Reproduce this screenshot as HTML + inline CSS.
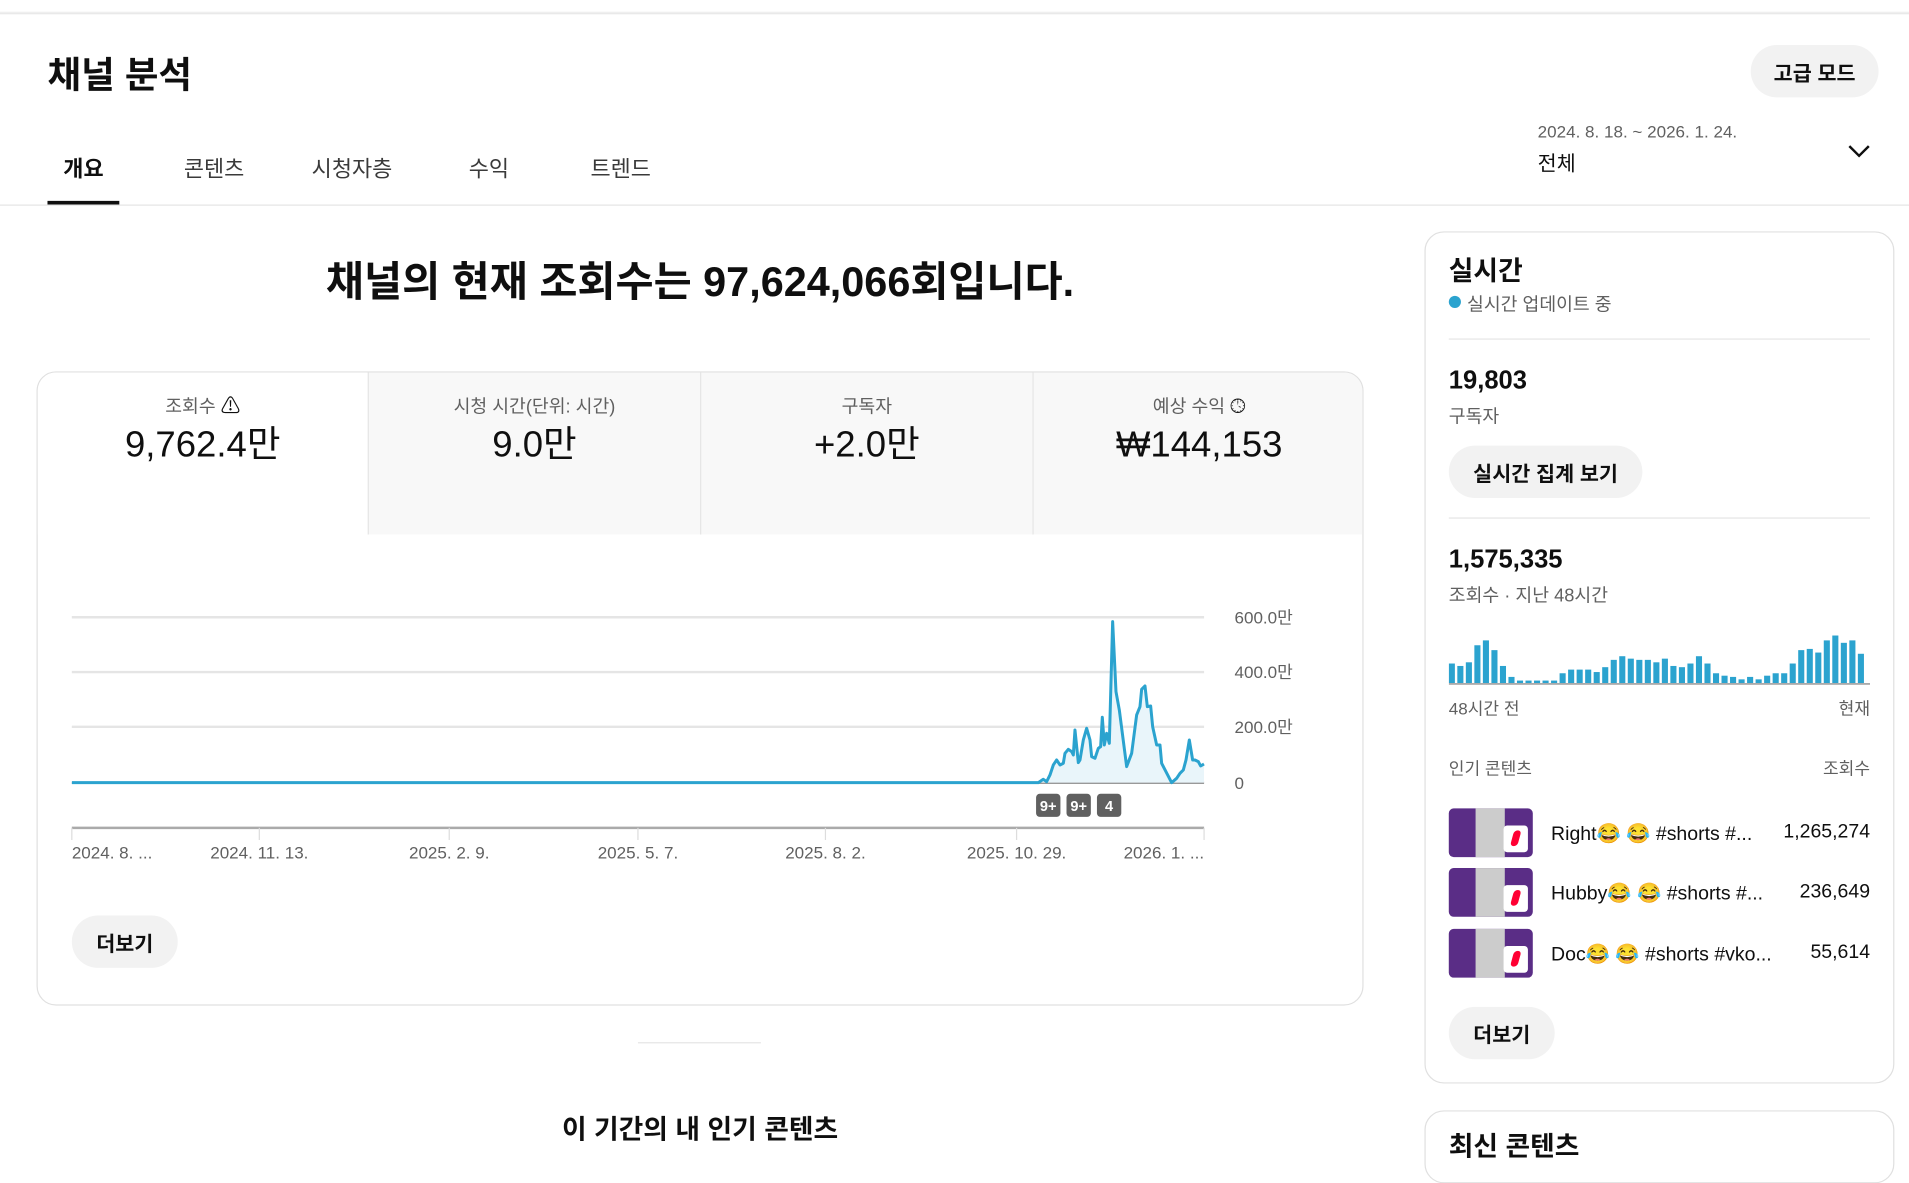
<!DOCTYPE html>
<html><head><meta charset="utf-8">
<style>
*{margin:0;padding:0;box-sizing:border-box}
html,body{width:1909px;height:1142px;overflow:hidden;background:#fff}
#w{position:absolute;left:0;top:0;width:1568px;height:938px;transform:scale(1.21747);transform-origin:0 0;font-family:"Liberation Sans","Noto Sans CJK KR",sans-serif;color:#0f0f0f}
.a{position:absolute;white-space:nowrap}
.g{color:#606060}
.btn{position:absolute;background:#f2f2f2;border-radius:22px;font-size:17px;font-weight:600;display:flex;align-items:center;justify-content:center}
.cell{position:absolute;top:0;height:133px;text-align:center}
.cell .l{margin-top:20px;font-size:15px;line-height:18px;height:18px;color:#606060}
.cell .l span{display:inline-block;font-size:16px;line-height:18px;height:18px;color:#0f0f0f;vertical-align:top}
.cell .v{margin-top:4px;font-size:30px;line-height:36px}
.thumb{position:absolute;left:1190px;width:69px;height:40px;background:#5a2d86;border-radius:4px}
.thumb i{position:absolute;left:22px;top:0;width:24px;height:40px;background:#ccc}
.thumb b{position:absolute;right:4px;top:14px;width:20px;height:22px;background:#fff;border-radius:3px}
.thumb b:after{content:"";position:absolute;left:7px;top:4px;width:6px;height:13px;background:#f03;border-radius:3px;transform:skewX(-15deg)}
</style></head><body><div id="w">
<div class="a" style="left:0;top:0;width:1568px;height:12px;background:linear-gradient(#fff,#fff 9px,#e6e6e6 11px,#f7f7f7 12px)"></div>
<div class="a" style="left:39px;top:37px;font-size:30px;font-weight:700">채널 분석</div>
<div class="btn" style="left:1438px;top:37px;width:105px;height:43px">고급 모드</div>
<div class="a" style="left:52px;top:125px;font-size:18px;font-weight:600">개요</div>
<div class="a g" style="left:151px;top:125px;font-size:18px;color:#3a3a3a">콘텐츠</div>
<div class="a g" style="left:256px;top:125px;font-size:18px;color:#3a3a3a">시청자층</div>
<div class="a g" style="left:385px;top:125px;font-size:18px;color:#3a3a3a">수익</div>
<div class="a g" style="left:485px;top:125px;font-size:18px;color:#3a3a3a">트렌드</div>
<div class="a" style="left:39px;top:165px;width:59px;height:3px;background:#0f0f0f"></div>
<div class="a" style="left:0;top:168px;width:1568px;height:1px;background:#e5e5e5"></div>
<div class="a g" style="left:1263px;top:100px;font-size:14px">2024. 8. 18. ~ 2026. 1. 24.</div>
<div class="a" style="left:1263px;top:120px;font-size:17px">전체</div>
<svg class="a" style="left:1517px;top:117px" width="20" height="14"><path d="M2 3l8 8 8-8" fill="none" stroke="#0f0f0f" stroke-width="2"/></svg>

<div class="a" style="left:0;width:1150px;top:204px;text-align:center;font-size:34px;font-weight:700">채널의 현재 조회수는 97,624,066회입니다.</div>

<div class="a" style="left:30px;top:305px;width:1090px;height:521px;border:1px solid #e0e0e0;border-radius:16px;overflow:hidden">
 <div class="cell" style="left:0;width:271px;background:#fff"><div class="l">조회수 <span>⚠</span></div><div class="v">9,762.4만</div></div>
 <div class="cell" style="left:271px;width:273px;background:#f8f8f8;border-left:1px solid #e5e5e5"><div class="l">시청 시간(단위: 시간)</div><div class="v">9.0만</div></div>
 <div class="cell" style="left:544px;width:273px;background:#f8f8f8;border-left:1px solid #e5e5e5"><div class="l">구독자</div><div class="v">+2.0만</div></div>
 <div class="cell" style="left:817px;width:273px;background:#f8f8f8;border-left:1px solid #e5e5e5"><div class="l">예상 수익 <span>🕓︎</span></div><div class="v">₩144,153</div></div>
</div>

<svg class="a" style="left:0;top:0" width="1150" height="720">
 <g stroke="#e5e5e5" stroke-width="2"><line x1="59" y1="507" x2="989" y2="507"/><line x1="59" y1="552" x2="989" y2="552"/><line x1="59" y1="597" x2="989" y2="597"/></g>
 <line x1="59" y1="643" x2="989" y2="643" stroke="#999" stroke-width="2"/>
 <g transform="translate(846,492.8) scale(0.2738)">
  <path d="M-2874 548 L0,548 L25,548 L40,538 L50,545 L60,525 L70,495 L80,480 L90,495 L100,490 L105,460 L115,448 L125,455 L130,465 L135,390 L145,488 L150,480 L160,420 L170,385 L180,420 L185,470 L195,475 L205,445 L212,440 L217,352 L223,435 L230,400 L238,430 L248,65 L258,275 L268,330 L290,500 L305,460 L320,345 L330,320 L335,268 L345,258 L352,320 L362,318 L368,380 L380,435 L390,435 L395,490 L425,548 L440,535 L450,520 L460,510 L468,480 L478,420 L488,480 L495,480 L505,485 L512,498 L522,492 L522,548 Z" fill="#e9f5fa"/>
  <path d="M-2874 548 L0,548 L25,548 L40,538 L50,545 L60,525 L70,495 L80,480 L90,495 L100,490 L105,460 L115,448 L125,455 L130,465 L135,390 L145,488 L150,480 L160,420 L170,385 L180,420 L185,470 L195,475 L205,445 L212,440 L217,352 L223,435 L230,400 L238,430 L248,65 L258,275 L268,330 L290,500 L305,460 L320,345 L330,320 L335,268 L345,258 L352,320 L362,318 L368,380 L380,435 L390,435 L395,490 L425,548 L440,535 L450,520 L460,510 L468,480 L478,420 L488,480 L495,480 L505,485 L512,498 L522,492" fill="none" stroke="#2ba3cf" stroke-width="9" stroke-linejoin="round"/>
 </g>
 <g font-size="14" fill="#606060" font-family="Liberation Sans,Noto Sans CJK KR,sans-serif">
  <text x="1014" y="512">600.0만</text><text x="1014" y="557">400.0만</text><text x="1014" y="602">200.0만</text><text x="1014" y="648">0</text>
 </g>
 <g font-size="12" font-weight="700" fill="#fff" text-anchor="middle" font-family="Liberation Sans,sans-serif">
  <rect x="851" y="652" width="20" height="19" rx="3" fill="#606060"/><text x="861" y="666">9+</text>
  <rect x="876" y="652" width="20" height="19" rx="3" fill="#606060"/><text x="886" y="666">9+</text>
  <rect x="901" y="652" width="20" height="19" rx="3" fill="#606060"/><text x="911" y="666">4</text>
 </g>
 <line x1="59" y1="680" x2="989" y2="680" stroke="#aaa" stroke-width="2"/>
 <g stroke="#ddd"><line x1="59" y1="680" x2="59" y2="690"/><line x1="213" y1="680" x2="213" y2="690"/><line x1="369" y1="680" x2="369" y2="690"/><line x1="524" y1="680" x2="524" y2="690"/><line x1="678" y1="680" x2="678" y2="690"/><line x1="835" y1="680" x2="835" y2="690"/><line x1="989" y1="680" x2="989" y2="690"/></g>
 <g font-size="14" fill="#606060" font-family="Liberation Sans,Noto Sans CJK KR,sans-serif">
  <text x="59" y="705">2024. 8. ...</text><text x="213" y="705" text-anchor="middle">2024. 11. 13.</text><text x="369" y="705" text-anchor="middle">2025. 2. 9.</text><text x="524" y="705" text-anchor="middle">2025. 5. 7.</text><text x="678" y="705" text-anchor="middle">2025. 8. 2.</text><text x="835" y="705" text-anchor="middle">2025. 10. 29.</text><text x="989" y="705" text-anchor="end">2026. 1. ...</text>
 </g>
</svg>
<div class="btn" style="left:59px;top:752px;width:87px;height:43px">더보기</div>
<div class="a" style="left:524px;top:856px;width:101px;height:1px;background:#e5e5e5"></div>
<div class="a" style="left:0;width:1150px;top:910px;text-align:center;font-size:22px;font-weight:600">이 기간의 내 인기 콘텐츠</div>

<div class="a" style="left:1170px;top:190px;width:386px;height:700px;border:1px solid #e0e0e0;border-radius:16px"></div>
<div class="a" style="left:1190px;top:205px;font-size:22px;font-weight:600">실시간</div>
<div class="a" style="left:1190px;top:243px;width:10px;height:10px;border-radius:50%;background:#2ba3cf"></div>
<div class="a g" style="left:1205px;top:239px;font-size:15px">실시간 업데이트 중</div>
<div class="a" style="left:1190px;top:278px;width:346px;height:1px;background:#e5e5e5"></div>
<div class="a" style="left:1190px;top:301px;font-size:21px;font-weight:700">19,803</div>
<div class="a g" style="left:1190px;top:331px;font-size:15px">구독자</div>
<div class="btn" style="left:1190px;top:366px;width:159px;height:43px">실시간 집계 보기</div>
<div class="a" style="left:1190px;top:425px;width:346px;height:1px;background:#e5e5e5"></div>
<div class="a" style="left:1190px;top:448px;font-size:21px;font-weight:700">1,575,335</div>
<div class="a g" style="left:1190px;top:478px;font-size:15px">조회수 · 지난 48시간</div>
<svg class="a" style="left:1190px;top:515px" width="346" height="48">
<g fill="#2ba3cf">
<rect x="0" y="30" width="5" height="16"/><rect x="7" y="32" width="5" height="14"/><rect x="14" y="29" width="5" height="17"/><rect x="21" y="15" width="5" height="31"/><rect x="28" y="11" width="5" height="35"/><rect x="35" y="19" width="5" height="27"/><rect x="42" y="32" width="5" height="14"/><rect x="49" y="41" width="5" height="5"/><rect x="56" y="44" width="5" height="2"/><rect x="63" y="44" width="5" height="2"/><rect x="70" y="44" width="5" height="2"/><rect x="77" y="44" width="5" height="2"/><rect x="84" y="44" width="5" height="2"/><rect x="91" y="38" width="5" height="8"/><rect x="98" y="35" width="5" height="11"/><rect x="105" y="35" width="5" height="11"/><rect x="112" y="35" width="5" height="11"/><rect x="119" y="37" width="5" height="9"/><rect x="126" y="33" width="5" height="13"/><rect x="133" y="27" width="5" height="19"/><rect x="140" y="24" width="5" height="22"/><rect x="147" y="26" width="5" height="20"/><rect x="154" y="27" width="5" height="19"/><rect x="161" y="27" width="5" height="19"/><rect x="168" y="29" width="5" height="17"/><rect x="175" y="26" width="5" height="20"/><rect x="182" y="32" width="5" height="14"/><rect x="189" y="33" width="5" height="13"/><rect x="196" y="30" width="5" height="16"/><rect x="203" y="24" width="5" height="22"/><rect x="210" y="30" width="5" height="16"/><rect x="217" y="38" width="5" height="8"/><rect x="224" y="40" width="5" height="6"/><rect x="231" y="41" width="5" height="5"/><rect x="238" y="43" width="5" height="3"/><rect x="245" y="41" width="5" height="5"/><rect x="252" y="43" width="5" height="3"/><rect x="259" y="40" width="5" height="6"/><rect x="266" y="38" width="5" height="8"/><rect x="273" y="38" width="5" height="8"/><rect x="280" y="30" width="5" height="16"/><rect x="287" y="19" width="5" height="27"/><rect x="294" y="18" width="5" height="28"/><rect x="301" y="21" width="5" height="25"/><rect x="308" y="11" width="5" height="35"/><rect x="315" y="7" width="5" height="39"/><rect x="322" y="13" width="5" height="33"/><rect x="329" y="11" width="5" height="35"/><rect x="336" y="22" width="5" height="24"/>
</g><rect x="0" y="46" width="346" height="1.5" fill="#aaa"/></svg>
<div class="a g" style="left:1190px;top:572px;font-size:14px">48시간 전</div>
<div class="a g" style="left:1490px;width:46px;text-align:right;top:572px;font-size:14px">현재</div>
<div class="a g" style="left:1190px;top:621px;font-size:14px">인기 콘텐츠</div>
<div class="a g" style="left:1480px;width:56px;text-align:right;top:621px;font-size:14px">조회수</div>
<div class="thumb" style="top:664px"><i></i><b></b></div>
<div class="thumb" style="top:713px"><i></i><b></b></div>
<div class="thumb" style="top:763px"><i></i><b></b></div>
<div class="a" style="left:1274px;top:675px;font-size:16px">Right😂 😂 #shorts #...</div>
<div class="a" style="left:1274px;top:724px;font-size:16px">Hubby😂 😂 #shorts #...</div>
<div class="a" style="left:1274px;top:774px;font-size:16px">Doc😂 😂 #shorts #vko...</div>
<div class="a" style="left:1436px;width:100px;text-align:right;top:675px;font-size:16px">1,265,274</div>
<div class="a" style="left:1436px;width:100px;text-align:right;top:724px;font-size:16px">236,649</div>
<div class="a" style="left:1436px;width:100px;text-align:right;top:774px;font-size:16px">55,614</div>
<div class="btn" style="left:1190px;top:827px;width:87px;height:43px">더보기</div>
<div class="a" style="left:1170px;top:912px;width:386px;height:60px;border:1px solid #e0e0e0;border-radius:16px"></div>
<div class="a" style="left:1190px;top:924px;font-size:22px;font-weight:600">최신 콘텐츠</div>
</div></body></html>
